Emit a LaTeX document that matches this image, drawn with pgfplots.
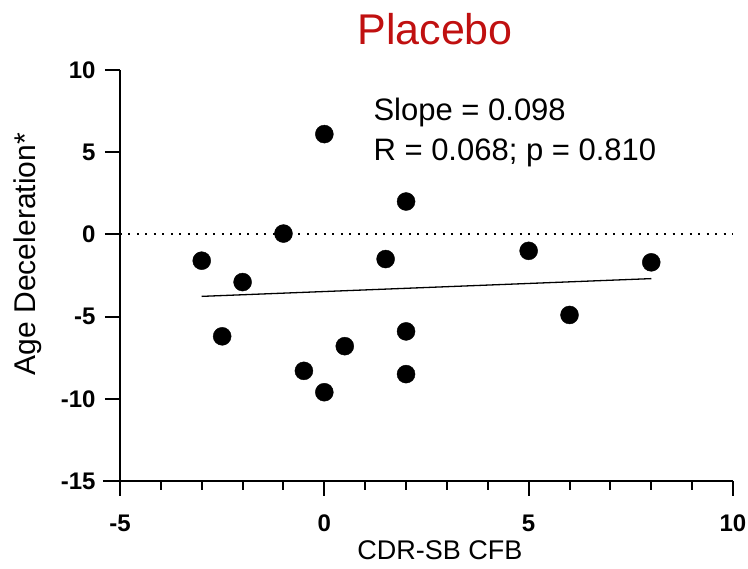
\documentclass[border=0pt]{standalone}
\usepackage{fontspec}
\setmainfont{Liberation Sans}
\usepackage{pgfplots}
\pgfplotsset{compat=1.18}
\definecolor{titlered}{RGB}{192,16,16}
\begin{document}
\begin{tikzpicture}
\path[use as bounding box] (-120pt,-88pt) rectangle (628pt,481pt);
\begin{axis}[
    at={(0,0)}, anchor=south west,
    scale only axis, width=613pt, height=411pt,
    xmin=-5, xmax=10, ymin=-15, ymax=10,
    axis x line*=bottom, axis y line*=left,
    axis line style={line width=2pt, -},
    xtick={-5,0,5,10}, ytick={-15,-10,...,10},
    major tick length=0pt,
    ticklabel style={font=\fontsize{24}{24}\selectfont\bfseries},
    xticklabel style={yshift=-30pt},
    yticklabel style={xshift=-21pt},
    /pgf/number format/assume math mode=true,
    xlabel={CDR-SB CFB},
    ylabel={Age Deceleration*},
    xlabel style={font=\fontsize{27}{27}\selectfont, at={(rel axis cs:0.522,0)}, anchor=base, yshift=-79pt},
    ylabel style={font=\fontsize{30}{30}\selectfont, at={(rel axis cs:0,0.552)}, anchor=center, yshift=92pt},
    clip=false,
]
% zero reference
\addplot[black, line width=2pt, dash pattern=on 2pt off 6.5pt] coordinates {(-5,0) (10,0)};

% regression line
\addplot[black, line width=1.3pt] coordinates {(-3,-3.77) (8,-2.69)};

% subjects
\addplot[only marks, mark=*, mark size=9pt, black] coordinates {
    (-3,-1.6)
    (-2.5,-6.2)
    (-2,-2.9)
    (-1,0.05)
    (-0.5,-8.3)
    (0,6.1)
    (0,-9.6)
    (0.5,-6.8)
    (1.5,-1.5)
    (2,2.0)
    (2,-5.9)
    (2,-8.5)
    (5,-1.0)
    (6,-4.9)
    (8,-1.7)
};

\node[anchor=north west, align=left, font=\fontsize{31}{40}\selectfont, inner sep=0pt]
    at (axis cs:1.2,8.3) {Slope = 0.098\\R = 0.068; p = 0.810};

\node[anchor=base, text=titlered, font=\fontsize{43}{43}\selectfont, inner sep=0pt]
    at (rel axis cs:0.514,1.061) {Placebo};
\end{axis}
% outside ticks and the crossed corner, in the axis frame (613pt x 411pt)
\begin{scope}[line width=2pt]
\draw (-17pt,0) -- (0,0);
\draw (0,-15pt) -- (0,0);
\foreach \i in {0,...,15}{
    \pgfmathsetmacro{\len}{ifthenelse(mod(\i,5)==0,15,9)}
    \draw (\i*40.8667pt,0) -- (\i*40.8667pt,-\len pt);
}
\foreach \j in {0,...,5}{
    \draw (-15pt,\j*82.2pt) -- (0,\j*82.2pt);
}
\end{scope}
\end{tikzpicture}
\end{document}
